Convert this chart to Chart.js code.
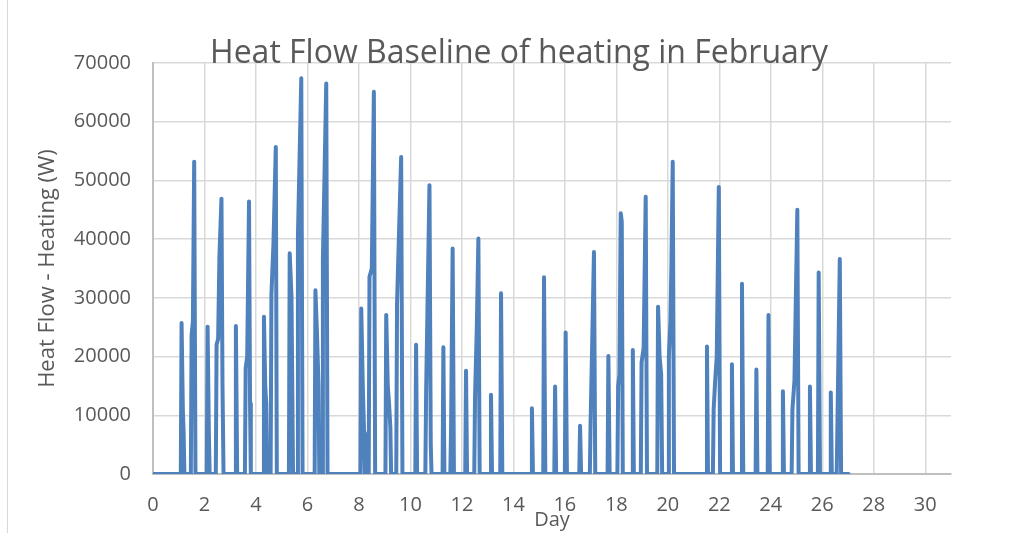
<!DOCTYPE html>
<html>
<head>
<meta charset="utf-8">
<title>Heat Flow Baseline of heating in February</title>
<script src="https://cdn.jsdelivr.net/npm/chart.js@4.4.1/dist/chart.umd.min.js"></script>
<style>
  body { margin: 0; background: #fff; }
  #wrap { position: relative; width: 1020px; height: 533px; }
  #frame { position: absolute; left: 7px; top: 0; width: 1px; height: 533px; background: #d9d9d9; }
</style>
</head>
<body>
<div id="wrap">
  <div id="frame"></div>
  <canvas id="heatChart" width="1020" height="533"></canvas>
</div>
<script>
// heating load per time step, February (day of month, watts)
const days = [
  0, 1.08, 1.11, 1.16, 1.19, 1.22, 1.47, 1.50, 1.55, 1.60, 1.65,
  2.09, 2.12, 2.17, 2.20, 2.44, 2.47, 2.53, 2.58, 2.66, 2.70, 2.74,
  3.19, 3.22, 3.27, 3.57, 3.60, 3.66, 3.73, 3.77, 3.80,
  4.28, 4.31, 4.36, 4.40, 4.43, 4.57, 4.60, 4.68, 4.77, 4.81,
  5.28, 5.31, 5.38, 5.44, 5.60, 5.63, 5.76, 5.81,
  6.28, 6.31, 6.37, 6.43, 6.46, 6.57, 6.60, 6.73, 6.78,
  8.06, 8.09, 8.15, 8.20, 8.23, 8.38, 8.41, 8.50, 8.58, 8.63,
  9.03, 9.06, 9.12, 9.17, 9.22, 9.25, 9.45, 9.48, 9.64, 9.69,
  10.19, 10.22, 10.26, 10.58, 10.61, 10.74, 10.79, 10.82,
  11.25, 11.28, 11.32, 11.55, 11.58, 11.64, 11.69,
  12.13, 12.16, 12.20, 12.48, 12.51, 12.58, 12.64, 12.69,
  13.10, 13.13, 13.17, 13.49, 13.52, 13.57,
  14.69, 14.72, 14.76,
  15.16, 15.19, 15.24, 15.59, 15.62, 15.66,
  16.00, 16.03, 16.08, 16.56, 16.59, 16.63, 16.97,
  17.00, 17.06, 17.13, 17.18, 17.66, 17.69, 17.74,
  18.04, 18.07, 18.12, 18.17, 18.21, 18.25, 18.61, 18.64, 18.68, 18.95, 18.98,
  19.06, 19.14, 19.19, 19.59, 19.62, 19.68, 19.74, 19.78,
  20.01, 20.04, 20.10, 20.14, 20.19, 20.24,
  21.49, 21.52, 21.56, 21.75, 21.78, 21.84, 21.90, 21.98,
  22.03, 22.46, 22.49, 22.53, 22.85, 22.88, 22.93,
  23.41, 23.44, 23.48, 23.88, 23.91, 23.96,
  24.44, 24.47, 24.51, 24.81, 24.84, 24.92,
  25.03, 25.08, 25.49, 25.52, 25.56, 25.83, 25.86, 25.91,
  26.30, 26.33, 26.37, 26.56, 26.59, 26.68, 26.73,
  27.02
];

const heatFlow = [
  0, 0, 25700, 10900, 7000, 0, 0, 23700, 26000, 53200, 0,
  0, 25100, 7000, 0, 0, 22000, 23000, 37000, 46900, 15000, 0,
  0, 25200, 0, 0, 18000, 20000, 46400, 12000, 0,
  0, 26800, 15000, 12000, 0, 0, 30500, 39300, 55700, 0,
  0, 37600, 30200, 0, 0, 40400, 67400, 0,
  0, 31300, 24000, 15000, 0, 0, 36400, 66500, 0,
  0, 28200, 15000, 7000, 0, 0, 33600, 35000, 65100, 0,
  0, 27100, 15000, 12000, 8000, 0, 0, 29100, 54000, 0,
  0, 22000, 0, 0, 14000, 49200, 5000, 0,
  0, 21600, 0, 0, 8000, 38400, 0,
  0, 17600, 0, 0, 13000, 25100, 40100, 0,
  0, 13500, 0, 0, 30800, 0,
  0, 11200, 0,
  0, 33500, 0, 0, 14900, 0,
  0, 24100, 0, 0, 8200, 0, 0,
  9000, 22000, 37800, 0, 0, 20100, 0,
  0, 15000, 17000, 44400, 43000, 0, 0, 21100, 0, 0, 19000,
  21500, 47200, 0, 0, 28500, 20000, 17000, 0,
  0, 20000, 26000, 35900, 53200, 0,
  0, 21700, 0, 0, 11000, 16000, 20000, 48900,
  0, 0, 18700, 0, 0, 32400, 0,
  0, 17800, 0, 0, 27100, 0,
  0, 14100, 0, 0, 11000, 16000,
  45000, 0, 0, 14900, 0, 0, 34300, 0,
  0, 13900, 0, 0, 9000, 36600, 0,
  0
];

const yTicks = [0, 10000, 20000, 30000, 40000, 50000, 60000, 70000];
const xTickStep = 2;

const chartTitle = 'Heat Flow Baseline of heating in February';
const textColor = '#595959';
const gridColor = '#d9d9d9';
const fontFamily = '"Open Sans", "Liberation Sans", sans-serif';

const points = days.map((d, i) => ({ x: d, y: heatFlow[i] }));

// title sits slightly right of the plot centre and dips into the top gridline
const titlePlugin = {
  id: 'overlapTitle',
  afterDraw(chart) {
    const ctx = chart.ctx;
    ctx.save();
    ctx.fillStyle = textColor;
    ctx.font = '32px ' + fontFamily;
    ctx.textAlign = 'center';
    ctx.textBaseline = 'alphabetic';
    ctx.fillText(chartTitle, 519, 63);
    ctx.restore();
  }
};

new Chart(document.getElementById('heatChart'), {
  type: 'line',
  data: {
    datasets: [{
      label: 'Heat Flow - Heating (W)',
      data: points,
      borderColor: '#4F81BD',
      backgroundColor: '#4F81BD',
      borderWidth: 4,
      borderJoinStyle: 'round',
      borderCapStyle: 'round',
      pointRadius: 0,
      tension: 0,
      fill: false
    }]
  },
  plugins: [titlePlugin],
  options: {
    responsive: false,
    animation: false,
    layout: { padding: { left: 0, right: 69, top: 63, bottom: 0 } },
    plugins: {
      legend: { display: false },
      tooltip: { enabled: false },
      title: { display: false }
    },
    scales: {
      x: {
        type: 'linear',
        min: 0,
        max: 31,
        afterFit: (scale) => { scale.height = 59; },
        ticks: {
          stepSize: xTickStep,
          includeBounds: false,
          color: textColor,
          font: { family: fontFamily, size: 20 },
          padding: 19,
          maxRotation: 0
        },
        grid: { color: gridColor, lineWidth: 1.5, drawTicks: false },
        border: { color: '#bfbfbf', width: 2 },
        title: {
          display: true,
          text: 'Day',
          color: textColor,
          font: { family: fontFamily, size: 20 },
          padding: { top: 0, bottom: 1 }
        }
      },
      y: {
        min: yTicks[0],
        max: yTicks[yTicks.length - 1],
        afterFit: (scale) => { scale.width = 153; },
        afterBuildTicks: (scale) => { scale.ticks = yTicks.map(v => ({ value: v })); },
        ticks: {
          color: textColor,
          font: { family: fontFamily, size: 20 },
          padding: 22,
          callback: (v) => String(v)
        },
        grid: { color: gridColor, lineWidth: 1.5, drawTicks: false },
        border: { color: '#bfbfbf', width: 2 },
        title: {
          display: true,
          text: 'Heat Flow - Heating (W)',
          color: textColor,
          font: { family: fontFamily, size: 22 },
          padding: { top: 35, bottom: 0 }
        }
      }
    }
  }
});
</script>
</body>
</html>
